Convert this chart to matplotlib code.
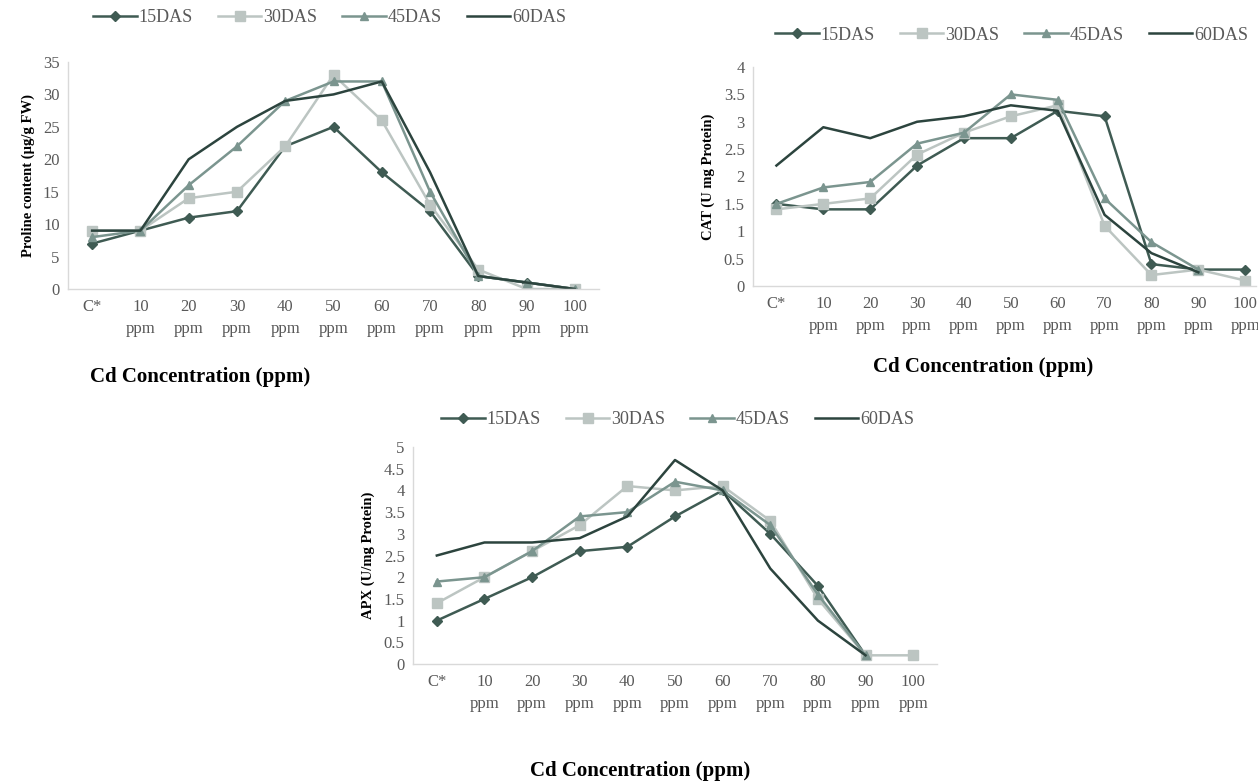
import matplotlib
matplotlib.use("Agg")
import matplotlib.pyplot as plt
import numpy as np

categories = ["C*", "10\nppm", "20\nppm", "30\nppm", "40\nppm", "50\nppm",
              "60\nppm", "70\nppm", "80\nppm", "90\nppm", "100\nppm"]
series_names = ["15DAS", "30DAS", "45DAS", "60DAS"]

proline_15 = [7, 9, 11, 12, 22, 25, 18, 12, 2, 1, 0]
proline_30 = [9, 9, 14, 15, 22, 33, 26, 13, 3, 0, 0]
proline_45 = [8, 9, 16, 22, 29, 32, 32, 15, 2, 1, 0]
proline_60 = [9, 9, 20, 25, 29, 30, 32, 18, 2, 1, 0]

cat_15 = [1.5, 1.4, 1.4, 2.2, 2.7, 2.7, 3.2, 3.1, 0.4, 0.3, 0.3]
cat_30 = [1.4, 1.5, 1.6, 2.4, 2.8, 3.1, 3.3, 1.1, 0.2, 0.3, 0.1]
cat_45 = [1.5, 1.8, 1.9, 2.6, 2.8, 3.5, 3.4, 1.6, 0.8, 0.3, None]
cat_60 = [2.2, 2.9, 2.7, 3.0, 3.1, 3.3, 3.2, 1.3, 0.6, 0.25, None]

apx_15 = [1.0, 1.5, 2.0, 2.6, 2.7, 3.4, 4.0, 3.0, 1.8, 0.2, None]
apx_30 = [1.4, 2.0, 2.6, 3.2, 4.1, 4.0, 4.1, 3.3, 1.5, 0.2, 0.2]
apx_45 = [1.9, 2.0, 2.6, 3.4, 3.5, 4.2, 4.0, 3.2, 1.6, 0.2, None]
apx_60 = [2.5, 2.8, 2.8, 2.9, 3.4, 4.7, 4.0, 2.2, 1.0, 0.2, None]

colors = ["#3f5b53", "#bcc5c2", "#7b958f", "#2c443e"]
markers = ["D", "s", "^", None]
msizes = [5, 7, 6, 0]

W, H = 1258, 784
fig = plt.figure(figsize=(W / 100, H / 100), dpi=100)

SERIF = ["Liberation Serif", "DejaVu Serif"]
TICK_COLOR = "#595959"


def make_axes(left, right, top, bottom):
    return fig.add_axes([left / W, 1 - bottom / H, (right - left) / W, (bottom - top) / H])


def draw(ax, data, ymax, ystep, xright, ylabel, yfmt):
    x = np.arange(len(categories))
    for vals, name, c, m, ms in zip(data, series_names, colors, markers, msizes):
        y = np.array([np.nan if v is None else v for v in vals], dtype=float)
        ax.plot(x, y, color=c, lw=1.8, marker=m, ms=ms, label=name,
                markeredgecolor=c, markerfacecolor=c)
    ax.set_xlim(-0.5, xright)
    ax.set_ylim(0, ymax)
    ticks = np.arange(0, ymax + 1e-9, ystep)
    ax.set_yticks(ticks)
    ax.set_yticklabels([yfmt(t) for t in ticks])
    ax.set_xticks(x)
    ax.set_xticklabels(categories, linespacing=1.5)
    for lab in ax.get_xticklabels() + ax.get_yticklabels():
        lab.set_fontfamily(SERIF)
        lab.set_fontsize(12)
        lab.set_color(TICK_COLOR)
    ax.tick_params(length=0, pad=6)
    ax.tick_params(axis="x", pad=7)
    for s in ["top", "right"]:
        ax.spines[s].set_visible(False)
    for s in ["left", "bottom"]:
        ax.spines[s].set_color("#d9d9d9")
        ax.spines[s].set_linewidth(1.0)
    ax.set_ylabel(ylabel, fontfamily=SERIF, fontweight="bold", fontsize=10.5, labelpad=6)
    ax.set_facecolor("none")


def fmt_int(t):
    return "%d" % t


def fmt_half(t):
    return ("%d" % t) if abs(t - round(t)) < 1e-9 else ("%.1f" % t)


def legend_at(ax, x, y):
    leg = ax.legend(loc="center left", bbox_to_anchor=(x / W, 1 - y / H),
                    bbox_transform=fig.transFigure, ncol=4, frameon=False,
                    prop={"family": SERIF, "size": 13}, handlelength=2.4,
                    handletextpad=0.1, columnspacing=1.4, borderaxespad=0)
    for t in leg.get_texts():
        t.set_color(TICK_COLOR)


# Chart 1: Proline
ax1 = make_axes(68, 599, 62, 289)
draw(ax1, [proline_15, proline_30, proline_45, proline_60], 35, 5, 10.5,
     "Proline content (\u00b5g/g FW)", fmt_int)
legend_at(ax1, 86, 18)
fig.text(200 / W, 1 - 377 / H, "Cd Concentration (ppm)", ha="center", va="center",
         fontfamily=SERIF, fontweight="bold", fontsize=15)

# Chart 2: CAT
ax2 = make_axes(753, 1256, 67, 286)
draw(ax2, [cat_15, cat_30, cat_45, cat_60], 4, 0.5, 10.23,
     "CAT (U mg Protein)", fmt_half)
legend_at(ax2, 768, 35)
fig.text(983 / W, 1 - 367 / H, "Cd Concentration (ppm)", ha="center", va="center",
         fontfamily=SERIF, fontweight="bold", fontsize=15)

# Chart 3: APX
ax3 = make_axes(413, 937, 447, 664)
draw(ax3, [apx_15, apx_30, apx_45, apx_60], 5, 0.5, 10.5,
     "APX (U/mg Protein)", fmt_half)
legend_at(ax3, 434, 420)
fig.text(640 / W, 1 - 771 / H, "Cd Concentration (ppm)", ha="center", va="center",
         fontfamily=SERIF, fontweight="bold", fontsize=15)

fig.savefig("out.png", dpi=100, facecolor="white")
